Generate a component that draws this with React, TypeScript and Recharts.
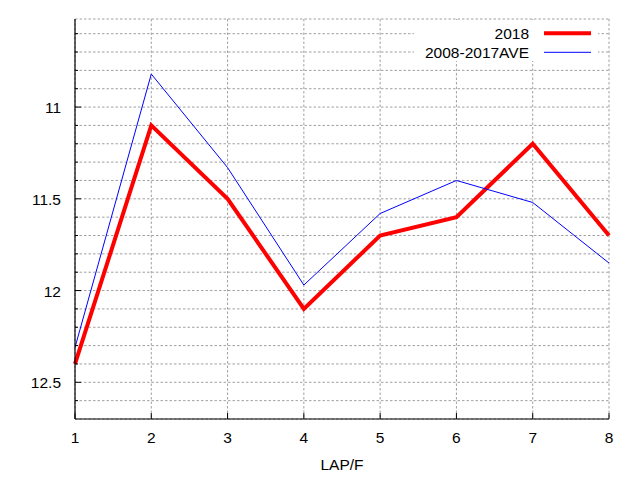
import React from "react";
import { LineChart, Line, XAxis, YAxis, CartesianGrid } from "recharts";

const laps = [1, 2, 3, 4, 5, 6, 7, 8];
const y2018 = [12.4, 11.1, 11.5, 12.1, 11.7, 11.6, 11.2, 11.7];
const yAve = [12.31, 10.82, 11.33, 11.97, 11.58, 11.4, 11.52, 11.85];
const xTicks = [1, 2, 3, 4, 5, 6, 7, 8];
const yTicks = [
  10.6, 10.7, 10.8, 10.9, 11, 11.1, 11.2, 11.3, 11.4, 11.5, 11.6, 11.7, 11.8,
  11.9, 12, 12.1, 12.2, 12.3, 12.4, 12.5, 12.6,
];
const seriesNames = ["2018", "2008-2017AVE"];
const seriesColors = ["#ff0000", "#0000ff"];
const seriesWidths = [4, 1];

const data = laps.map((lap, i) => ({ lap, s2018: y2018[i], ave: yAve[i] }));

const FONT = "'Liberation Sans', Arial, sans-serif";
const FS = 15.5;

const isMajor = (v: number) => Math.abs(v * 2 - Math.round(v * 2)) < 1e-6;
const fmt = (v: number) => String(Math.round(v * 10) / 10);

const BottomTick = (props: any) => {
  const { x, y, payload } = props;
  return (
    <g>
      <line x1={x} x2={x} y1={y} y2={y - 6} stroke="#000" strokeWidth={1} />
      <text x={x} y={y + 24} textAnchor="middle" fontFamily={FONT} fontSize={FS} fill="#000">
        {payload.value}
      </text>
    </g>
  );
};

const TopTick = (props: any) => {
  const { x, y } = props;
  return <line x1={x} x2={x} y1={y} y2={y + 6} stroke="#000" strokeWidth={1} />;
};

const LeftTick = (props: any) => {
  const { x, y, payload } = props;
  const major = isMajor(payload.value);
  return (
    <g>
      <line x1={x} x2={x + (major ? 6 : 3)} y1={y} y2={y} stroke="#000" strokeWidth={1} />
      {major ? (
        <text x={x - 14} y={y + 6} textAnchor="end" fontFamily={FONT} fontSize={FS} fill="#000">
          {fmt(payload.value)}
        </text>
      ) : null}
    </g>
  );
};

const RightTick = (props: any) => {
  const { x, y, payload } = props;
  const major = isMajor(payload.value);
  return <line x1={x} x2={x - (major ? 6 : 3)} y1={y} y2={y} stroke="#000" strokeWidth={1} />;
};

const LegendOverlay = () => (
  <svg
    width={640}
    height={70}
    style={{ position: "absolute", left: 0, top: 0, display: "block", pointerEvents: "none" }}
  >
    <rect x={414} y={20} width={184} height={41} fill="#fff" />
    {seriesNames.map((name, i) => {
      const cy = 33.3 + i * 19;
      return (
        <g key={name}>
          <text x={529} y={cy + 5.5} textAnchor="end" fontFamily={FONT} fontSize={FS} fill="#000">
            {name}
          </text>
          <line x1={544} x2={591} y1={cy} y2={cy} stroke={seriesColors[i]} strokeWidth={seriesWidths[i]} />
        </g>
      );
    })}
  </svg>
);

export default function App() {
  return (
    <div style={{ position: "absolute", left: 0, top: 0, width: 640, height: 480, background: "#fff" }}>
      <LineChart
        width={640}
        height={480}
        data={data}
        margin={{ top: 19, right: 31, left: 0, bottom: 0 }}
        style={{ fontFamily: FONT }}
      >
        <CartesianGrid stroke="#a0a0a0" strokeDasharray="2.5 2" strokeWidth={1} xAxisId="b" yAxisId="l" />
        <XAxis
          xAxisId="b"
          dataKey="lap"
          type="number"
          domain={[1, 8]}
          ticks={xTicks}
          orientation="bottom"
          height={61}
          tickSize={0}
          tickMargin={0}
          tickLine={false}
          tick={<BottomTick />}
          axisLine={{ stroke: "#000", strokeWidth: 1.2 }}
          interval={0}
          label={{ value: "LAP/F", position: "insideBottom", offset: 10, fill: "#000", fontSize: FS, fontFamily: FONT }}
        />
        <XAxis
          xAxisId="t"
          dataKey="lap"
          type="number"
          domain={[1, 8]}
          ticks={xTicks}
          orientation="top"
          height={0}
          tickSize={0}
          tickMargin={0}
          tickLine={false}
          tick={<TopTick />}
          axisLine={{ stroke: "#000", strokeWidth: 1.2 }}
          interval={0}
        />
        <YAxis
          yAxisId="l"
          type="number"
          domain={[10.52, 12.7]}
          reversed
          allowDataOverflow
          ticks={yTicks}
          orientation="left"
          width={75}
          tickSize={0}
          tickMargin={0}
          tickLine={false}
          tick={<LeftTick />}
          axisLine={{ stroke: "#000", strokeWidth: 1.2 }}
          interval={0}
        />
        <YAxis
          yAxisId="r"
          type="number"
          domain={[10.52, 12.7]}
          reversed
          allowDataOverflow
          ticks={yTicks}
          orientation="right"
          width={0}
          tickSize={0}
          tickMargin={0}
          tickLine={false}
          tick={<RightTick />}
          axisLine={{ stroke: "#000", strokeWidth: 1.2 }}
          interval={0}
        />
        <Line
          xAxisId="b"
          yAxisId="l"
          type="linear"
          dataKey="s2018"
          name={seriesNames[0]}
          stroke={seriesColors[0]}
          strokeWidth={seriesWidths[0]}
          dot={false}
          activeDot={false}
          isAnimationActive={false}
        />
        <Line
          xAxisId="b"
          yAxisId="l"
          type="linear"
          dataKey="ave"
          name={seriesNames[1]}
          stroke={seriesColors[1]}
          strokeWidth={seriesWidths[1]}
          dot={false}
          activeDot={false}
          isAnimationActive={false}
        />
      </LineChart>
      <LegendOverlay />
    </div>
  );
}
